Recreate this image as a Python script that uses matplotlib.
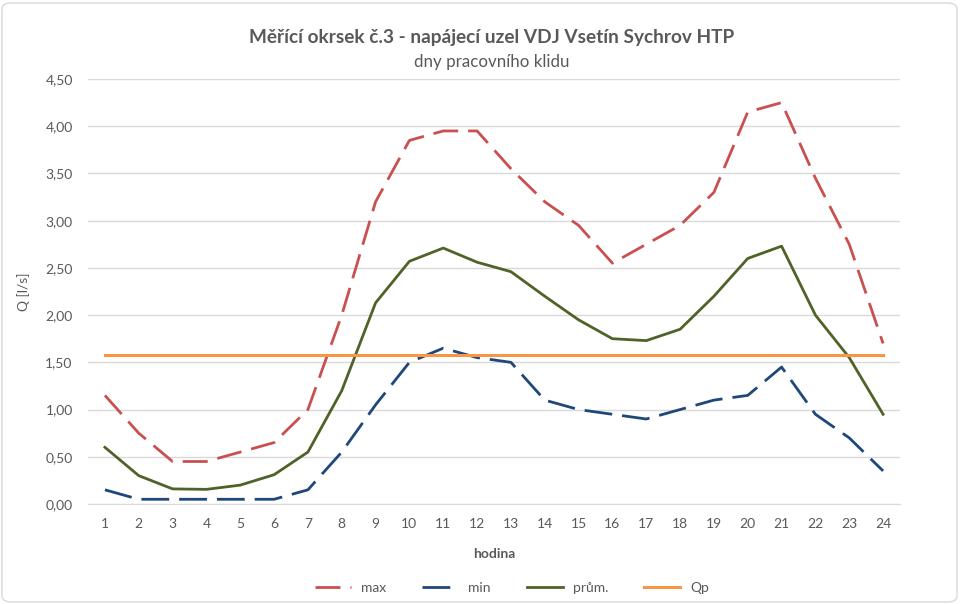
import matplotlib
matplotlib.use("Agg")
import matplotlib.pyplot as plt
from matplotlib.patches import FancyBboxPatch
from matplotlib.ticker import FuncFormatter, MultipleLocator

hours = list(range(1, 25))
q_max = [1.15, 0.75, 0.45, 0.45, 0.55, 0.65, 1.00, 2.00, 3.20, 3.85, 3.95, 3.95,
         3.55, 3.20, 2.95, 2.55, 2.75, 2.95, 3.30, 4.15, 4.25, 3.45, 2.75, 1.70]
q_min = [0.15, 0.05, 0.05, 0.05, 0.05, 0.05, 0.15, 0.55, 1.05, 1.50, 1.65, 1.55,
         1.50, 1.10, 1.00, 0.95, 0.90, 1.00, 1.10, 1.15, 1.45, 0.95, 0.70, 0.35]
q_avg = [0.60, 0.30, 0.16, 0.155, 0.20, 0.31, 0.55, 1.20, 2.13, 2.57, 2.71, 2.56,
         2.46, 2.20, 1.95, 1.75, 1.73, 1.85, 2.20, 2.60, 2.73, 2.00, 1.55, 0.95]
q_p = [1.58] * 24

labels = ["max", "min", "prům.", "Qp"]
title = "Měřící okrsek č.3 - napájecí uzel VDJ Vsetín Sychrov HTP"
subtitle = "dny pracovního klidu"

plt.rcParams['font.family'] = ['Lato', 'DejaVu Sans']
txt = '#595959'

fig = plt.figure(figsize=(9.6, 6.04), dpi=100)
ax = fig.add_axes([88/960, 1-504/604, (900-88)/960, (504-79)/604])

ax.plot(hours, q_max, color='#C9504F', lw=2.0, dashes=(9, 3.6), label=labels[0])
ax.plot(hours, q_min, color='#1F477A', lw=2.0, dashes=(10, 3.6), label=labels[1])
ax.plot(hours, q_avg, color='#4F6228', lw=2.0, label=labels[2])
ax.plot(hours, q_p, color='#F79646', lw=2.2, label=labels[3])

ax.set_xlim(0.5, 24.5)
ax.set_ylim(0, 4.5)
ax.yaxis.set_major_locator(MultipleLocator(0.5))
ax.yaxis.set_major_formatter(FuncFormatter(lambda v, p: f"{v:.2f}".replace('.', ',')))
ax.set_xticks(hours)
ax.grid(axis='y', color='#D9D9D9', lw=1.0)
ax.set_axisbelow(True)
for s in ['top', 'right', 'left']:
    ax.spines[s].set_visible(False)
ax.spines['bottom'].set_color('#D9D9D9')
ax.tick_params(axis='both', length=0, labelsize=10, colors=txt)
ax.tick_params(axis='x', pad=10)
ax.tick_params(axis='y', pad=11)

ax.set_xlabel("hodina", fontsize=10, color=txt, fontweight='bold', labelpad=13)
ax.set_ylabel("Q [l/s]", fontsize=10, color=txt, labelpad=11)

fig.text(492/960, 1-38/604, title, ha='center', va='center', fontsize=13.7,
         fontweight='bold', color=txt)
fig.text(492/960, 1-62/604, subtitle, ha='center', va='center', fontsize=12.2, color=txt)

leg = fig.legend(loc='center', bbox_to_anchor=(512/960, 1-588/604), ncol=4, frameon=False,
                 fontsize=10, handlelength=2.6, columnspacing=2.6, handletextpad=0.7)
for t in leg.get_texts():
    t.set_color(txt)

border = FancyBboxPatch((2/960, 2/604), 955/960, 599/604, boxstyle="round,pad=0,rounding_size=0.01",
                        transform=fig.transFigure, fill=False, edgecolor='#D9D9D9', lw=1.0)
fig.patches.append(border)

fig.savefig("out.png", dpi=100)
